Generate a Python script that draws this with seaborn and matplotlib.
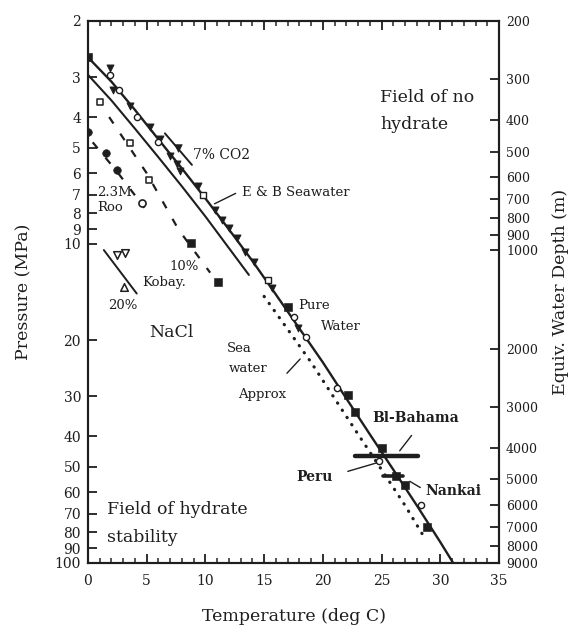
import numpy as np
import pandas as pd
import matplotlib
matplotlib.use("Agg")
import matplotlib.pyplot as plt
from matplotlib.ticker import FixedLocator, FixedFormatter, NullLocator, MultipleLocator
import seaborn as sns

# ---- phase boundaries (temperature deg C, pressure MPa) ----
pure_T = [0, 2, 4, 6, 8, 10, 12, 14, 16, 18, 20, 22, 24, 26, 28, 30, 31.1]
pure_P = [2.6, 3.1, 3.8, 4.7, 5.8, 7.2, 9.0, 11.3, 14.4, 18.4, 23.5, 30.5, 39.5, 51, 66, 86, 100]

eb_sea_T = [0, 2, 4, 6, 8, 10, 12, 13.7]
eb_sea_P = [2.95, 3.55, 4.35, 5.35, 6.6, 8.2, 10.3, 12.5]

sea_approx_T = [15.0, 17.0, 19.0, 21.0, 23.0, 25.0, 27.0, 28.8]
sea_approx_P = [14.6, 18.5, 23.5, 30.5, 39.5, 51, 66, 85]

kobay10_T = [1.8, 5.0, 7.7, 10.4]
kobay10_P = [4.0, 6.0, 9.0, 12.3]

roo23_T = [0.4, 2.5, 4.8]
roo23_P = [4.8, 5.95, 7.7]

nacl20_T = [1.35, 4.15]
nacl20_P = [10.45, 14.3]

co2_T = [6.55, 8.85]
co2_P = [4.5, 5.65]

# ---- measured points ----
tri_T = [1.9, 2.1, 3.6, 5.3, 6.1, 7.0, 7.6, 7.8, 9.4, 10.8, 11.4, 12.0, 12.7, 13.4, 14.1, 15.7, 17.9]
tri_P = [2.8, 3.3, 3.7, 4.3, 4.7, 5.3, 5.6, 5.9, 6.6, 7.8, 8.4, 8.9, 9.6, 10.6, 11.4, 13.7, 18.3]

open_T = [1.9, 2.6, 4.2, 6.0, 17.5, 18.6, 21.2, 24.8, 28.4]
open_P = [2.95, 3.3, 4.0, 4.8, 16.9, 19.6, 28.3, 48.0, 66.0]

open_sq_T = [9.8, 15.3]
open_sq_P = [7.0, 13.0]

filled_sq_T = [0, 17.0, 22.1, 22.7, 25.0, 26.2, 27.0, 28.9]
filled_sq_P = [2.6, 15.8, 29.7, 33.6, 43.6, 53.3, 57.0, 77.0]

kobay_open_T = [1.0, 3.6, 5.2]
kobay_open_P = [3.6, 4.82, 6.3]
kobay_fill_T = [8.8, 11.1]
kobay_fill_P = [9.9, 13.2]

roo_fill_T = [0.0, 1.5, 2.5]
roo_fill_P = [4.46, 5.2, 5.86]
roo_open_T = [4.6]
roo_open_P = [7.45]

nacl20_pts_T = [2.5, 3.15, 3.07]
nacl20_pts_P = [10.8, 10.7, 13.6]

co2_pts_T = [7.7]
co2_pts_P = [5.0]

# site estimates: horizontal ranges (T min, T max, P)
bahama_T = [22.7, 28.1]
bahama_P = [46.3, 46.3]
peru_T = [25.1, 26.8]
peru_P = [53.3, 53.3]

# axis ticks
x_ticks = [0, 5, 10, 15, 20, 25, 30, 35]
p_ticks = [2, 3, 4, 5, 6, 7, 8, 9, 10, 20, 30, 40, 50, 60, 70, 80, 90, 100]
depth_ticks = [200, 300, 400, 500, 600, 700, 800, 900, 1000,
               2000, 3000, 4000, 5000, 6000, 7000, 8000, 9000]


def depth_to_pressure(d):
    """Equivalent hydrostatic pressure (MPa) for a water depth (m)."""
    d = np.asarray(d, dtype=float)
    p = 10 ** ((np.log10(d) - 2.008) / 0.973)
    return np.clip(p, 2.0, 100.0)


sns.set_theme(style="ticks")
plt.rcParams["font.family"] = ["DejaVu Serif"]
plt.rcParams["axes.linewidth"] = 1.5
INK = "#1e1e1e"

fig = plt.figure(figsize=(5.70, 6.27), dpi=100)
ax = fig.add_axes([88 / 570, 1 - 563 / 627, 411 / 570, 542 / 627])


def curve(T, P, **kw):
    df = pd.DataFrame({"T": T, "P": P})
    sns.lineplot(data=df, x="T", y="P", ax=ax, sort=False, estimator=None,
                 color=INK, legend=False, **kw)


def points(T, P, **kw):
    df = pd.DataFrame({"T": T, "P": P})
    sns.scatterplot(data=df, x="T", y="P", ax=ax, legend=False, zorder=4, **kw)


curve(pure_T, pure_P, lw=1.7)
curve(eb_sea_T, eb_sea_P, lw=1.5)
curve(sea_approx_T, sea_approx_P, lw=2.3, linestyle=(0, (0.1, 2.6)),
      dash_capstyle="round")
curve(kobay10_T, kobay10_P, lw=1.6, linestyle=(0, (3.5, 5.5)))
curve(roo23_T, roo23_P, lw=1.6, linestyle=(0, (3.5, 5.5)))
curve(nacl20_T, nacl20_P, lw=1.4)
curve(co2_T, co2_P, lw=1.4)
curve(bahama_T, bahama_P, lw=3.2)
curve(peru_T, peru_P, lw=2.6)

points(tri_T, tri_P, marker="v", s=26, color=INK, edgecolor=INK, linewidth=0.6)
points(open_T, open_P, marker="o", s=20, facecolor="white", edgecolor=INK, linewidth=1.0)
points(open_sq_T, open_sq_P, marker="s", s=22, facecolor="white", edgecolor=INK, linewidth=1.0)
points(filled_sq_T, filled_sq_P, marker="s", s=30, color=INK, edgecolor=INK)
points(kobay_open_T, kobay_open_P, marker="s", s=24, facecolor="white", edgecolor=INK, linewidth=1.1)
points(kobay_fill_T, kobay_fill_P, marker="s", s=26, color=INK, edgecolor=INK)
points(roo_fill_T, roo_fill_P, marker="o", s=30, color=INK, edgecolor=INK)
points(roo_open_T, roo_open_P, marker="o", s=26, facecolor="white", edgecolor=INK, linewidth=1.2)
points(nacl20_pts_T[:2], nacl20_pts_P[:2], marker="v", s=30, facecolor="white", edgecolor=INK, linewidth=1.1)
points(nacl20_pts_T[2:], nacl20_pts_P[2:], marker="^", s=30, facecolor="white", edgecolor=INK, linewidth=1.1)
points(co2_pts_T, co2_pts_P, marker="v", s=30, color=INK, edgecolor=INK)

# ---- axes, scales and ticks ----
ax.set_yscale("log")
ax.set_xlim(0, 35)
ax.set_ylim(100, 2)
ax.yaxis.set_major_locator(FixedLocator(p_ticks))
ax.yaxis.set_major_formatter(FixedFormatter([str(p) for p in p_ticks]))
ax.yaxis.set_minor_locator(NullLocator())
ax.xaxis.set_major_locator(FixedLocator(x_ticks))
ax.xaxis.set_minor_locator(MultipleLocator(1))
ax.tick_params(axis="both", which="major", direction="in", length=6.5, width=1.3,
               labelsize=10, colors=INK, top=True, pad=5)
ax.tick_params(axis="x", which="minor", direction="in", length=3.5, width=1.1,
               top=True)
ax.tick_params(axis="x", which="major", pad=8)
ax.set_xlabel("Temperature (deg C)", fontsize=12.5, color=INK, labelpad=14)
ax.set_ylabel("Pressure (MPa)", fontsize=12.5, color=INK, labelpad=16)

ax2 = ax.twinx()
ax2.set_yscale("log")
ax2.set_ylim(100, 2)
ax2.yaxis.set_major_locator(FixedLocator(depth_to_pressure(depth_ticks)))
ax2.yaxis.set_major_formatter(FixedFormatter([str(d) for d in depth_ticks]))
ax2.yaxis.set_minor_locator(NullLocator())
ax2.tick_params(axis="y", which="major", direction="in", length=6.5, width=1.3,
                labelsize=9, colors=INK, pad=5)
ax2.set_ylabel("Equiv. Water Depth (m)", fontsize=12.5, color=INK, labelpad=10)
for a in (ax, ax2):
    for s in a.spines.values():
        s.set_linewidth(1.5)
        s.set_color(INK)

# ---- labels ----
def label(x, y, s, size=10, **kw):
    ax.text(x, y, s, fontsize=size, color=INK, va="center", ha="left", zorder=5, **kw)


def pointer(x0, y0, x1, y1):
    ax.annotate("", xy=(x1, y1), xytext=(x0, y0),
                arrowprops=dict(arrowstyle="-", color=INK, lw=1.0))


label(24.9, 3.48, "Field of no", size=12.5)
label(24.9, 4.21, "hydrate", size=12.5)
label(1.62, 68.2, "Field of hydrate", size=12.5)
label(1.62, 83.0, "stability", size=12.5)
label(8.9, 5.26, "7% CO2", size=10)
label(13.1, 6.88, "E & B Seawater", size=9.5)
pointer(12.78, 6.88, 10.56, 7.55)
label(0.75, 6.88, "2.3M", size=9.5)
label(0.75, 7.71, "Roo", size=9.5)
label(6.95, 11.8, "10%", size=9.5)
label(4.65, 13.2, "Kobay.", size=9.5)
label(1.7, 15.6, "20%", size=9.5)
label(5.25, 19.0, "NaCl", size=12.5)
label(17.9, 15.6, "Pure", size=9.5)
label(19.8, 18.2, "Water", size=9.5)
label(11.8, 21.3, "Sea", size=9.5)
label(12.0, 24.6, "water", size=9.5)
label(12.75, 29.7, "Approx", size=9.5)
pointer(16.78, 25.8, 18.23, 22.6)
label(24.2, 35.1, "Bl-Bahama", size=10, fontweight="bold")
pointer(27.7, 39.2, 26.4, 45.2)
ax.text(20.8, 53.7, "Peru", fontsize=10, fontweight="bold", color=INK,
        va="center", ha="right", zorder=5)
pointer(21.9, 51.9, 24.87, 48.2)
label(28.7, 59.4, "Nankai", size=10, fontweight="bold")
pointer(28.5, 58.6, 27.2, 54.9)

fig.savefig("out.png", dpi=100)
